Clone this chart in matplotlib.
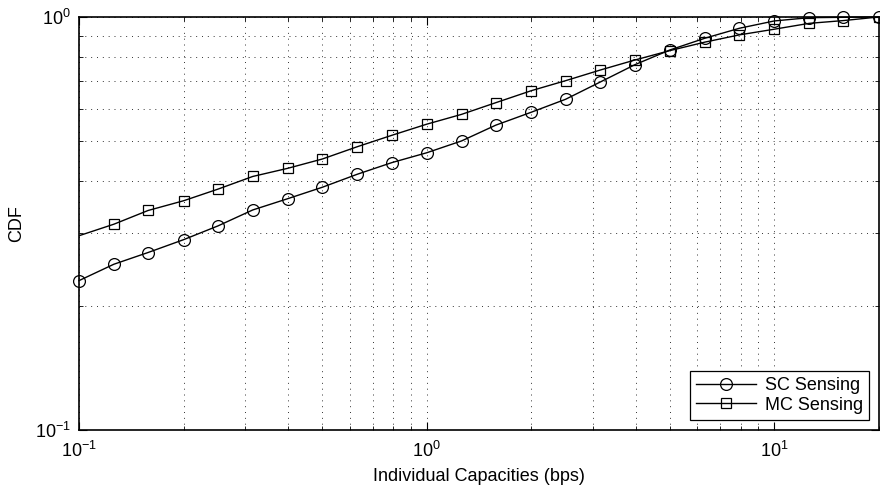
import matplotlib
matplotlib.use('Agg')
import matplotlib.pyplot as plt
from matplotlib.ticker import LogLocator, NullFormatter

plt.rcParams['font.family'] = ['Liberation Sans', 'DejaVu Sans']
plt.rcParams['mathtext.fontset'] = 'custom'
plt.rcParams['mathtext.rm'] = 'Liberation Sans'

# Capacity grid (bps), one point per tenth of a decade
capacity = [0.1, 0.126, 0.158, 0.2, 0.251, 0.316, 0.398, 0.501, 0.631, 0.794,
            1.0, 1.26, 1.58, 2.0, 2.51, 3.16, 3.98, 5.01, 6.31, 7.94,
            10.0, 12.6, 15.8, 20.0]

# SC sensing CDF
sc_cdf = [0.230, 0.252, 0.269, 0.289, 0.312, 0.341, 0.363, 0.387, 0.416, 0.444,
          0.469, 0.501, 0.547, 0.588, 0.632, 0.696, 0.767, 0.832, 0.888, 0.939,
          0.978, 0.996, 0.998, 1.0]

# MC sensing CDF (first sample lies just left of the plotted range,
# so only its connecting line shows at the left edge)
mc_capacity = [0.0794] + capacity[1:]
mc_cdf = [0.277, 0.315, 0.340, 0.359, 0.383, 0.411, 0.430, 0.453, 0.485, 0.517,
          0.550, 0.581, 0.620, 0.663, 0.701, 0.744, 0.787, 0.829, 0.869, 0.905,
          0.934, 0.965, 0.980, 1.0]

fig = plt.figure(figsize=(8.8, 4.9), dpi=100)
ax = fig.add_axes([0.0898, 0.1224, 0.909, 0.843])

ax.loglog(mc_capacity, mc_cdf, color='black', linewidth=1.0, marker='s',
          markersize=6.5, markerfacecolor='none', markeredgewidth=0.9,
          label='MC Sensing')
ax.loglog(capacity, sc_cdf, color='black', linewidth=1.0, marker='o',
          markersize=8.5, markerfacecolor='none', markeredgewidth=0.9,
          label='SC Sensing', clip_on=False, zorder=3)

ax.set_xlim(0.1, 20)
ax.set_ylim(0.1, 1)

ax.xaxis.set_minor_locator(LogLocator(base=10, subs=range(2, 10)))
ax.yaxis.set_minor_locator(LogLocator(base=10, subs=range(2, 10)))
ax.xaxis.set_minor_formatter(NullFormatter())
ax.yaxis.set_minor_formatter(NullFormatter())

ax.grid(True, which='both', linestyle=(0, (1, 5)), color='#333333', linewidth=0.7)
ax.tick_params(which='both', direction='in', top=True, right=True, labelsize=13)
ax.tick_params(axis='x', which='major', pad=8)
ax.tick_params(axis='y', which='major', pad=6)
ax.tick_params(which='major', length=6, width=0.8)
ax.tick_params(which='minor', length=3, width=0.6)
for s in ax.spines.values():
    s.set_linewidth(1.2)

ax.set_xlabel('Individual Capacities (bps)', fontsize=13, labelpad=5)
ax.set_ylabel('CDF', fontsize=13)
ax.yaxis.set_label_coords(-0.068, 0.5)

handles, labels = ax.get_legend_handles_labels()
leg = ax.legend(handles[::-1], labels[::-1], loc='lower right', fontsize=13,
                fancybox=False, edgecolor='black', framealpha=1,
                handlelength=3.3, handletextpad=0.5, borderpad=0.35,
                borderaxespad=0.55, labelspacing=0.15)
leg.get_frame().set_linewidth(0.9)

fig.savefig('out.png', dpi=100)
